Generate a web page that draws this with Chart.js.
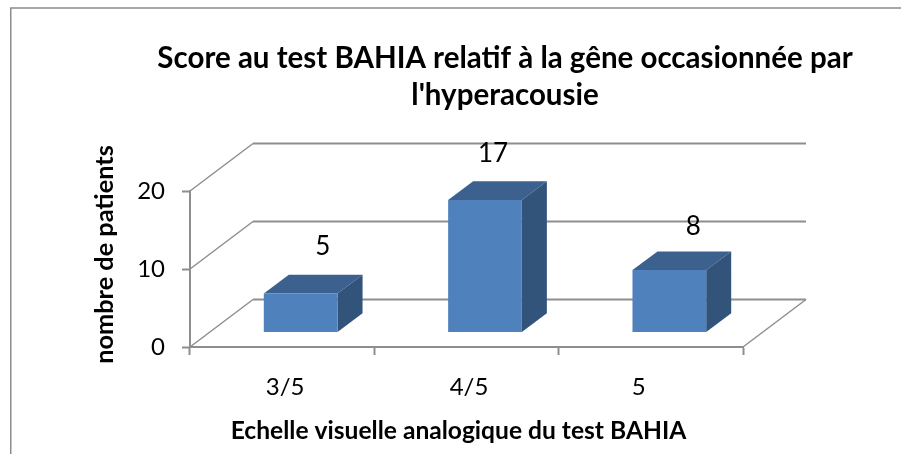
<!DOCTYPE html>
<html lang="fr">
<head>
<meta charset="utf-8">
<title>Score au test BAHIA</title>
<style>
html,body{margin:0;padding:0;background:#fff;overflow:hidden}
canvas{display:block}
</style>
<script src="https://cdn.jsdelivr.net/npm/chart.js@4"></script>
</head>
<body>
<canvas id="c" width="901" height="454"></canvas>
<script>
const categories = ['3/5', '4/5', '5'];
const patients = [5, 17, 8];
const yTicks = [0, 10, 20];
const titleLines = ["Score au test BAHIA relatif à la gêne occasionnée par", "l'hyperacousie"];
const xTitle = 'Echelle visuelle analogique du test BAHIA';
const yTitle = 'nombre de patients';

const FONT = 'Lato';
const AXIS = '#8e8e8e';
const WALL = {dx: 63, dy: -47.5};
const BAR_SHIFT = {dx: 18.5, dy: -14.5};
const BAR_DEPTH = {dx: 25, dy: -18.7};
const LABEL_SHIFT = [{dx: 22, dy: -47}, {dx: 8, dy: -46}, {dx: 24, dy: -43}];
const TICK_SHIFT = [3, 2.5, -12];

function line(ctx, pts, w) {
  ctx.beginPath();
  pts.forEach((p, i) => i ? ctx.lineTo(p[0], p[1]) : ctx.moveTo(p[0], p[1]));
  ctx.lineWidth = w;
  ctx.strokeStyle = AXIS;
  ctx.stroke();
}
function poly(ctx, pts, fill) {
  ctx.beginPath();
  pts.forEach((p, i) => i ? ctx.lineTo(p[0], p[1]) : ctx.moveTo(p[0], p[1]));
  ctx.closePath();
  ctx.fillStyle = fill;
  ctx.fill();
}

const threeD = {
  id: 'threeD',
  afterLayout(chart) {
    const t = chart.titleBlock;
    t.left = 109; t.right = 901;
    const shift = (scale, dx, dy) => {
      if (scale._wrapped) return;
      scale._wrapped = true;
      const orig = scale.drawTitle;
      scale.drawTitle = function () {
        const c = this.ctx;
        c.save(); c.translate(dx, dy); orig.call(this); c.restore();
      };
    };
    shift(chart.scales.x, -8, 0);
    shift(chart.scales.y, 0, -14.5);
    const xs = chart.scales.x;
    if (!xs._itemsWrapped) {
      xs._itemsWrapped = true;
      const origItems = xs.getLabelItems;
      xs.getLabelItems = function (area) {
        const items = origItems.call(this, area);
        items.forEach((it, i) => {
          if (!it._moved) {
            it._moved = true;
            it.options.translation = [it.options.translation[0] + TICK_SHIFT[i], it.options.translation[1]];
          }
        });
        return items;
      };
    }
  },
  beforeDraw(chart) {
    const ctx = chart.ctx;
    ctx.save();
    ctx.beginPath();
    ctx.moveTo(10.75, 454); ctx.lineTo(10.75, 8); ctx.lineTo(901, 8);
    ctx.lineWidth = 1.5; ctx.strokeStyle = '#8c8c8c'; ctx.stroke();
    ctx.restore();
  },
  beforeDatasetsDraw(chart) {
    const ctx = chart.ctx, {x, y} = chart.scales;
    ctx.save();
    const L = x.left, R = x.right;
    yTicks.forEach(v => {
      const py = y.getPixelForValue(v);
      line(ctx, [[L, py], [L + WALL.dx, py + WALL.dy]], 1.5);
      line(ctx, [[L + WALL.dx, py + WALL.dy], [R + WALL.dx, py + WALL.dy]], 2);
    });
    const b = y.getPixelForValue(0);
    line(ctx, [[R, b], [R + WALL.dx, b + WALL.dy]], 1.5);
    ctx.restore();

    chart.getDatasetMeta(0).data.forEach(el => {
      const l = el.x - el.width / 2 + BAR_SHIFT.dx, r = el.x + el.width / 2 + BAR_SHIFT.dx;
      const t = el.y + BAR_SHIFT.dy, bt = el.base + BAR_SHIFT.dy;
      const d = BAR_DEPTH;
      poly(ctx, [[l, t], [r, t], [r + d.dx, t + d.dy], [l + d.dx, t + d.dy]], '#3d618f');
      poly(ctx, [[r, t], [r + d.dx, t + d.dy], [r + d.dx, bt + d.dy], [r, bt]], '#32547b');
    });
    ctx.save();
    ctx.translate(BAR_SHIFT.dx, BAR_SHIFT.dy);
  },
  afterDatasetsDraw(chart) {
    const ctx = chart.ctx;
    ctx.restore();
    ctx.save();
    ctx.font = '400 26px ' + FONT;
    ctx.fillStyle = '#000';
    ctx.textAlign = 'center';
    ctx.textBaseline = 'middle';
    chart.getDatasetMeta(0).data.forEach((el, i) => {
      ctx.fillText(String(patients[i]),
        el.x + BAR_SHIFT.dx + LABEL_SHIFT[i].dx,
        el.y + BAR_SHIFT.dy + LABEL_SHIFT[i].dy);
    });
    ctx.restore();
  }
};

new Chart(document.getElementById('c'), {
  type: 'bar',
  data: {
    labels: categories,
    datasets: [{
      data: patients,
      backgroundColor: '#4f81bd',
      borderWidth: 0,
      barPercentage: 0.4,
      categoryPercentage: 1
    }]
  },
  options: {
    responsive: false,
    animation: false,
    layout: {padding: {left: 0, right: 158, top: 0, bottom: 0}},
    plugins: {
      legend: {display: false},
      tooltip: {enabled: false},
      title: {
        display: true,
        text: titleLines,
        color: '#000',
        font: {family: FONT, size: 29.5, weight: '700', lineHeight: 37 / 29.5},
        padding: {top: 40, bottom: 77}
      }
    },
    scales: {
      x: {
        afterFit: s => { s.height = 107; },
        border: {display: true, color: AXIS, width: 2},
        grid: {drawOnChartArea: false, drawTicks: true, tickLength: 8, tickColor: AXIS, tickWidth: 2},
        ticks: {color: '#000', font: {family: FONT, size: 24}, padding: 18, maxRotation: 0},
        title: {display: true, text: xTitle, color: '#000',
          font: {family: FONT, size: 24.6, weight: '700'}, padding: {top: 0, bottom: 8}}
      },
      y: {
        min: 0, max: 20,
        afterFit: s => { s.width = 190; },
        border: {display: true, color: AXIS, width: 2},
        grid: {drawOnChartArea: false, drawTicks: true, tickLength: 8, tickColor: AXIS, tickWidth: 2},
        ticks: {color: '#000', font: {family: FONT, size: 24}, padding: 17, stepSize: 10},
        title: {display: true, text: yTitle, color: '#000',
          font: {family: FONT, size: 25.3, weight: '700'}, padding: {top: 90, bottom: 0}}
      }
    }
  },
  plugins: [threeD]
});
</script>
</body>
</html>
